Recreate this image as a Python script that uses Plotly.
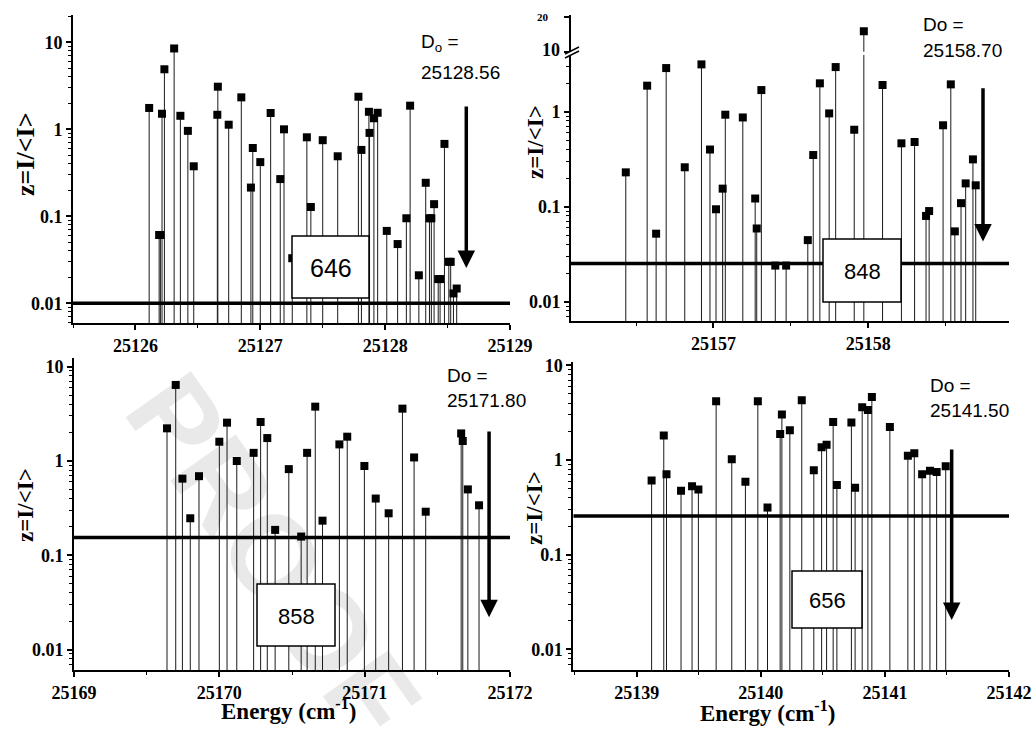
import numpy as np
import plotly.graph_objects as go

W, H = 1034, 736

# ---------------- data ----------------
# Panel 1 (646)
p1_energy = [25126.11, 25126.19, 25126.20, 25126.213, 25126.232, 25126.31, 25126.36, 25126.42,
             25126.467, 25126.656, 25126.66, 25126.747, 25126.848, 25126.925, 25126.94, 25127.0,
             25127.083, 25127.16, 25127.19, 25127.256, 25127.373, 25127.405, 25127.50, 25127.62,
             25127.786, 25127.81, 25127.87, 25127.875, 25127.91, 25127.94, 25128.013, 25128.1,
             25128.17, 25128.2, 25128.27, 25128.325, 25128.355, 25128.37, 25128.392, 25128.425,
             25128.44, 25128.475, 25128.51, 25128.525, 25128.547, 25128.573]
p1_z = [1.76, 0.061, 0.061, 1.51, 4.9, 8.5, 1.43, 0.96,
        0.376, 1.47, 3.09, 1.13, 2.33, 0.214, 0.61, 0.42,
        1.54, 0.268, 1.0, 0.033, 0.81, 0.128, 0.75, 0.49,
        2.37, 0.58, 1.59, 0.91, 1.34, 1.55, 0.068, 0.048,
        0.095, 1.87, 0.021, 0.243, 0.095, 0.095, 0.138, 0.019,
        0.019, 0.68, 0.030, 0.030, 0.013, 0.0148]
p1_threshold = 0.01
p1_D0 = "25128.56"
p1_label = "646"

# Panel 2 (848)
p2_energy = [25156.434, 25156.572, 25156.63, 25156.695, 25156.815, 25156.923, 25156.978, 25157.017,
             25157.06, 25157.077, 25157.19, 25157.27, 25157.28, 25157.31, 25157.40, 25157.47,
             25157.61, 25157.645, 25157.688, 25157.748, 25157.79, 25157.91, 25157.972, 25158.093,
             25158.215, 25158.30, 25158.374, 25158.394, 25158.484, 25158.534, 25158.56, 25158.6,
             25158.63, 25158.677, 25158.695]
p2_z = [0.23, 1.88, 0.052, 2.88, 0.26, 3.15, 0.40, 0.094,
        0.155, 0.93, 0.87, 0.122, 0.059, 1.69, 0.024, 0.024,
        0.0445, 0.35, 1.99, 0.96, 2.95, 0.646, 15.0, 1.91,
        0.465, 0.48, 0.08, 0.09, 0.72, 1.94, 0.055, 0.109,
        0.176, 0.315, 0.168]
p2_threshold = 0.0253
p2_D0 = "25158.70"
p2_label = "848"

# Panel 3 (858)
p3_energy = [25169.64, 25169.70, 25169.746, 25169.80, 25169.86, 25170.0, 25170.053, 25170.12,
             25170.236, 25170.284, 25170.33, 25170.384, 25170.478, 25170.563, 25170.604, 25170.66,
             25170.71, 25170.826, 25170.88, 25170.998, 25171.076, 25171.165, 25171.26, 25171.34,
             25171.42, 25171.664, 25171.675, 25171.71, 25171.787]
p3_z = [2.22, 6.4, 0.65, 0.247, 0.69, 1.6, 2.55, 1.0,
        1.22, 2.59, 1.75, 0.186, 0.82, 0.158, 1.22, 3.77,
        0.233, 1.5, 1.81, 0.885, 0.40, 0.279, 3.59, 1.09,
        0.29, 1.96, 1.63, 0.50, 0.339]
p3_threshold = 0.154
p3_D0 = "25171.80"
p3_label = "858"

# Panel 4 (656)
p4_energy = [25139.12, 25139.218, 25139.24, 25139.357, 25139.446, 25139.497, 25139.64, 25139.766,
             25139.876, 25139.976, 25140.054, 25140.156, 25140.17, 25140.234, 25140.33, 25140.427,
             25140.49, 25140.53, 25140.583, 25140.613, 25140.73, 25140.76, 25140.817, 25140.863,
             25140.895, 25141.04, 25141.185, 25141.237, 25141.3, 25141.363, 25141.417, 25141.49]
p4_z = [0.61, 1.82, 0.71, 0.475, 0.53, 0.49, 4.18, 1.02,
        0.59, 4.18, 0.315, 1.89, 3.03, 2.07, 4.28, 0.78,
        1.37, 1.45, 2.53, 0.545, 2.49, 0.51, 3.61, 3.39,
        4.64, 2.24, 1.11, 1.18, 0.71, 0.77, 0.75, 0.86]
p4_threshold = 0.257
p4_D0 = "25141.50"
p4_label = "656"

y_tickvals = [0.01, 0.1, 1, 10]
y_ticktext = ["0.01", "0.1", "1", "10"]

# ---------------- helpers ----------------
def px(x):
    return x / W


def py(y):
    return 1 - y / H


def stems(e, z, base=1e-4):
    xs, ys = [], []
    for a, b in zip(e, z):
        xs += [a, a, None]
        ys += [base, b, None]
    return xs, ys


SERIF = "Liberation Serif"
SANS = "Liberation Sans"
tickfont = dict(family=SERIF, size=18, color="black", weight="bold")
minor_y = [k * 10.0 ** d for d in range(-3, 2) for k in range(2, 10)]

fig = go.Figure()

panels = [
    ("x", "y", p1_energy, p1_z, p1_threshold, [25125.5, 25129]),
    ("x2", "y2", p2_energy, p2_z, p2_threshold, [25156.08, 25158.91]),
    ("x3", "y3", p3_energy, p3_z, p3_threshold, [25169, 25172]),
    ("x4", "y4", p4_energy, p4_z, p4_threshold, [25138.489, 25142]),
]

for xa, ya, e, z, thr, xr in panels:
    sx, sy = stems(e, z)
    fig.add_trace(go.Scatter(x=sx, y=sy, mode="lines", xaxis=xa, yaxis=ya,
                             line=dict(color="#1a1a1a", width=1), hoverinfo="skip"))
    fig.add_trace(go.Scatter(x=e, y=z, mode="markers", xaxis=xa, yaxis=ya,
                             marker=dict(symbol="square", size=8, color="black")))
    fig.add_trace(go.Scatter(x=xr, y=[thr, thr], mode="lines", xaxis=xa, yaxis=ya,
                             line=dict(color="black", width=3.5), hoverinfo="skip"))

# upper (broken) part of panel 2
sx, sy = stems(p2_energy, p2_z)
fig.add_trace(go.Scatter(x=sx, y=sy, mode="lines", xaxis="x2", yaxis="y5",
                         line=dict(color="#1a1a1a", width=1), hoverinfo="skip"))
fig.add_trace(go.Scatter(x=p2_energy, y=p2_z, mode="markers", xaxis="x2", yaxis="y5",
                         marker=dict(symbol="square", size=8, color="black")))


def xaxis_cfg(domain, rng, anchor):
    return dict(domain=domain, range=rng, anchor=anchor, automargin=False, showline=True,
                linewidth=2, linecolor="black", ticks="outside", ticklen=5, tickwidth=1.5,
                tickcolor="black", dtick=1, tick0=0,
                minor=dict(dtick=0.5, ticks="outside", ticklen=3, tickwidth=1, tickcolor="black"),
                showgrid=False, zeroline=False, tickfont=tickfont, tickformat="d")


def yaxis_cfg(domain, rng, anchor, tv=y_tickvals, tt=y_ticktext):
    return dict(type="log", domain=domain, range=rng, anchor=anchor, automargin=False,
                showline=True, linewidth=2, linecolor="black", ticks="outside", ticklen=5,
                tickwidth=1.5, tickcolor="black", tickvals=tv, ticktext=tt,
                minor=dict(tickvals=minor_y, ticks="outside", ticklen=3, tickwidth=1,
                           tickcolor="black"),
                showgrid=False, zeroline=False, tickfont=tickfont)


fig.update_layout(
    template="none",
    width=W, height=H, autosize=False, margin=dict(l=0, r=0, t=0, b=0, pad=0),
    paper_bgcolor="white", plot_bgcolor="rgba(0,0,0,0)", showlegend=False,
    xaxis=xaxis_cfg([px(73), px(510)], [25125.5, 25129], "y"),
    yaxis=yaxis_cfg([py(323), py(15)], [-2.226, 1.314], "x"),
    xaxis2=xaxis_cfg([px(571), px(1009)], [25156.08, 25158.91], "y2"),
    yaxis2=yaxis_cfg([py(321), py(55)], [-2.203, 0.597], "x2", [0.01, 0.1, 1], ["0.01", "0.1", "1"]),
    xaxis3=xaxis_cfg([px(74), px(510)], [25169, 25172], "y3"),
    yaxis3=yaxis_cfg([py(670), py(358)], [-2.216, 1.092], "x3"),
    xaxis4=xaxis_cfg([px(573.3), px(1009)], [25138.489, 25142], "y4"),
    yaxis4=yaxis_cfg([py(670), py(361.7)], [-2.218, 1.04], "x4"),
    yaxis5=dict(type="log", domain=[py(51.7), py(15)], range=[1, 1.316], anchor="x2",
                automargin=False, showline=True, linewidth=2, linecolor="black",
                ticks="outside", ticklen=5, tickwidth=1.5, tickcolor="black",
                tickvals=[10, 20], showticklabels=False, showgrid=False, zeroline=False),
)

ann = []
shapes = []

# watermark (behind the data)
shapes.append(dict(type="line", xref="paper", yref="paper", layer="below",
                   x0=px(224), y0=py(468), x1=px(340), y1=py(632),
                   line=dict(color="rgba(0,0,0,0)", width=0),
                   label=dict(text="PROOF", textposition="middle", yanchor="middle",
                              font=dict(family=SANS, size=116, color="#e9e9e9", weight="bold"))))

# y-axis titles
for xx, yy, sz in [(25, 155, 26), (535, 142, 23), (25, 505, 23), (535, 508, 23)]:
    ann.append(dict(text="z=I/&lt;I&gt;", x=px(xx), y=py(yy), xref="paper", yref="paper",
                    showarrow=False, textangle=-90, xanchor="center", yanchor="middle",
                    font=dict(family=SERIF, size=sz, color="black", weight="bold")))

# x-axis titles
for xx, yy in [(288, 709), (767, 711)]:
    ann.append(dict(text="Energy (cm<sup>-1</sup>)", x=px(xx), y=py(yy), xref="paper",
                    yref="paper", showarrow=False, xanchor="center", yanchor="middle",
                    font=dict(family=SERIF, size=23, color="black", weight="bold")))

# D0 labels
for xx, y1, y2, t1, t2 in [(419, 43, 72, "D<sub>o</sub> =", p1_D0),
                            (921, 25, 50, "Do =", p2_D0),
                            (445, 375, 400, "Do =", p3_D0),
                            (928, 385, 410, "Do =", p4_D0)]:
    ann.append(dict(text=t1, x=px(xx), y=py(y1), xref="paper", yref="paper", showarrow=False,
                    xanchor="left", yanchor="middle", font=dict(family=SANS, size=19, color="black")))
    ann.append(dict(text=t2, x=px(xx), y=py(y2), xref="paper", yref="paper", showarrow=False,
                    xanchor="left", yanchor="middle", font=dict(family=SANS, size=19, color="black")))

# boxed labels
for (x0, y0, x1, y1), txt, sz in [((292, 236, 369, 298), p1_label, 25),
                                  ((823, 239, 901, 302), p2_label, 22),
                                  ((257, 584, 335, 646), p3_label, 22),
                                  ((792, 571, 862, 628), p4_label, 22)]:
    shapes.append(dict(type="rect", xref="paper", yref="paper", layer="above",
                       x0=px(x0), y0=py(y1), x1=px(x1), y1=py(y0),
                       fillcolor="white", line=dict(color="black", width=1.5)))
    ann.append(dict(text=txt, x=px((x0 + x1) / 2), y=py((y0 + y1) / 2 + 1), xref="paper",
                    yref="paper", showarrow=False, xanchor="center", yanchor="middle",
                    font=dict(family=SANS, size=sz, color="black")))

# arrows (dissociation limit)
for xa, ya, e, tip, tail in [("x", "y", 25128.65, 0.0255, 1.90),
                             ("x2", "y2", 25158.742, 0.043, 1.83),
                             ("x3", "y3", 25171.856, 0.0221, 2.13),
                             ("x4", "y4", 25141.538, 0.0204, 1.34)]:
    ann.append(dict(x=e, y=np.log10(tip), ax=e, ay=np.log10(tail), xref=xa, yref=ya,
                    axref=xa, ayref=ya, text="", showarrow=True, arrowhead=2, arrowsize=1,
                    arrowwidth=3.5, arrowcolor="black"))

# broken-axis labels and marks on panel 2
ann.append(dict(text="20", x=px(551), y=py(17), xref="paper", yref="paper", showarrow=False,
                xanchor="right", yanchor="middle",
                font=dict(family=SERIF, size=11, color="black", weight="bold")))
ann.append(dict(text="10", x=px(562), y=py(50), xref="paper", yref="paper", showarrow=False,
                xanchor="right", yanchor="middle",
                font=dict(family=SERIF, size=18, color="black", weight="bold")))
for dy in (0, 4):
    shapes.append(dict(type="line", xref="paper", yref="paper", layer="above",
                       x0=px(565), y0=py(54 + dy), x1=px(579), y1=py(47 + dy),
                       line=dict(color="black", width=1.5)))

fig.update_layout(annotations=ann, shapes=shapes)

fig.write_html("out.html", config={"displayModeBar": False},
               post_script="document.body.style.margin='0';")
